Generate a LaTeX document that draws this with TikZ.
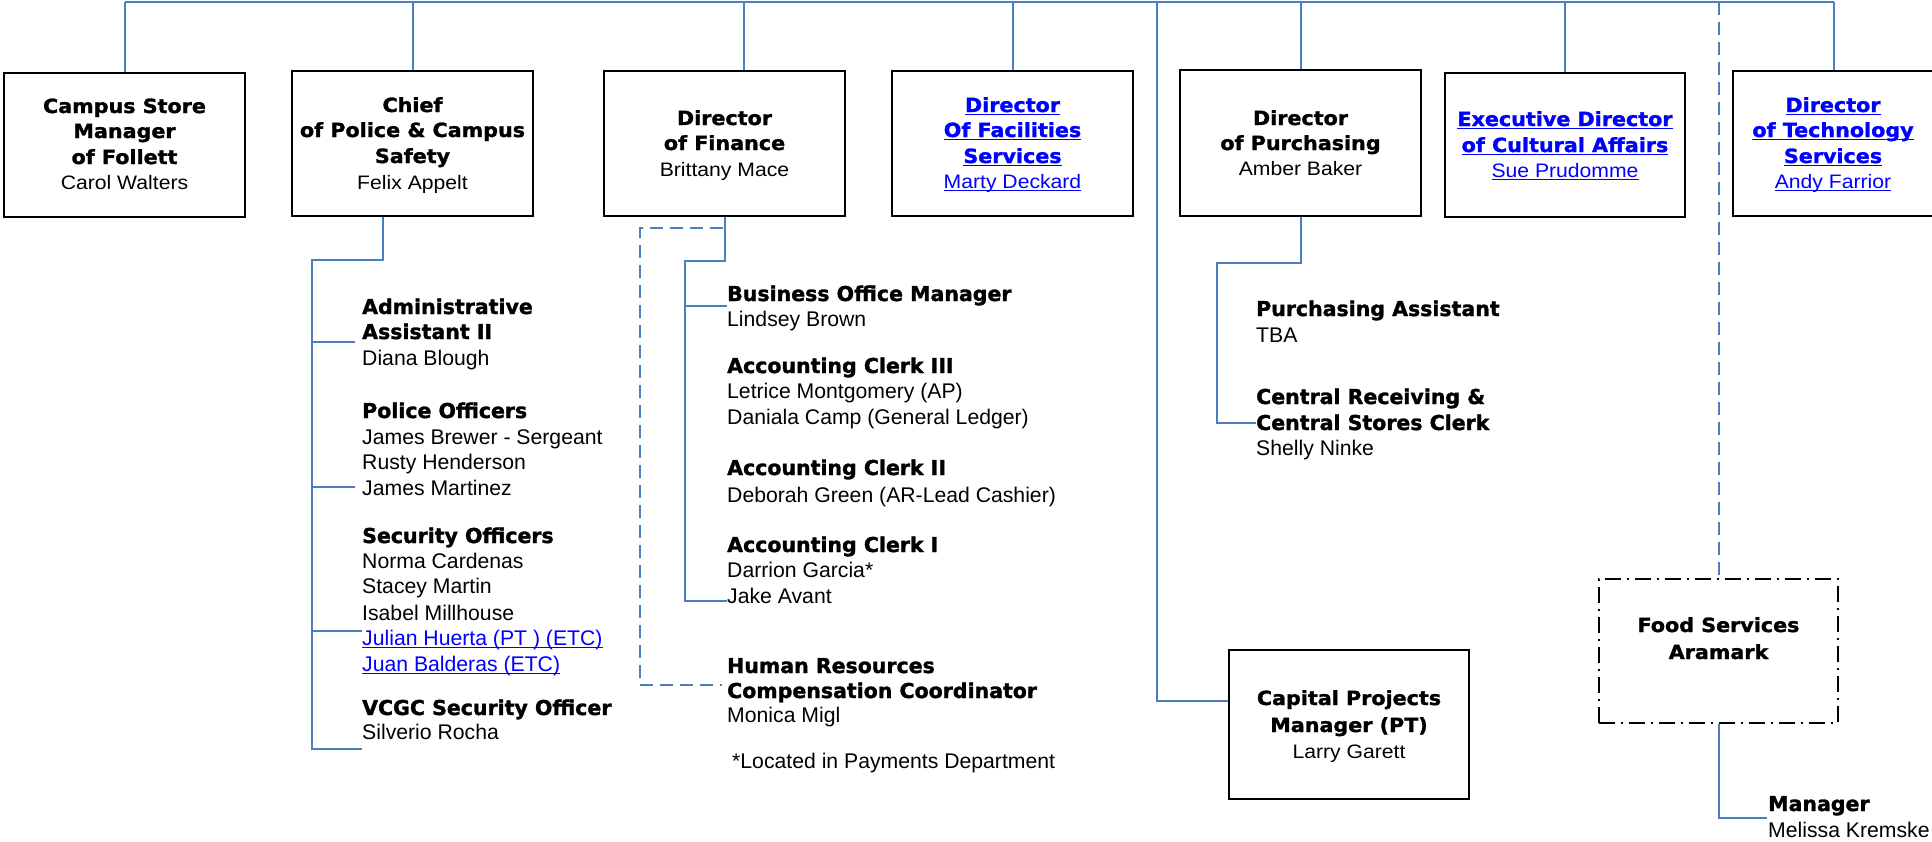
\documentclass[tikz,border=0pt]{standalone}
\usepackage{fontspec}
\usetikzlibrary{calc}
\setmainfont{Liberation Sans}
\newfontfamily\bxBf{DejaVu Sans}[FakeStretch=1.06,BoldFeatures={FakeBold=1.5}]
\newfontfamily\bxRf{Liberation Sans}[FakeStretch=1.085]
\newfontfamily\lsBf{DejaVu Sans}[BoldFeatures={FakeBold=1.5}]
\newcommand\BXB{\bxBf\bfseries\fontsize{19.5}{25}\selectfont}
\newcommand\BXR{\bxRf\fontsize{19.5}{25}\selectfont}
\newcommand\LB{\lsBf\bfseries\fontsize{20.5}{25}\selectfont}
\newcommand\LR{\rmfamily\fontsize{21.2}{25}\selectfont}
\definecolor{lineblue}{RGB}{74,126,190}
\definecolor{linkblue}{RGB}{0,0,255}
\newcommand\ulk[1]{\setbox0\hbox{#1}\rlap{\rule[-3pt]{\wd0}{1.4pt}}\box0}
\newcommand\lk[1]{\textcolor{linkblue}{\ulk{#1}}}
\begin{document}
\begin{tikzpicture}[x=1pt,y=-1pt,
  conn/.style={draw=lineblue,line width=2pt},
  dconn/.style={conn,dash pattern=on 13pt off 7pt},
  bx/.style={draw=black,line width=2.6pt,inner sep=0},
  fbx/.style={draw=black,line width=2pt,inner sep=0,dash pattern=on 16pt off 6pt on 2pt off 6pt},
  ctext/.style={inner sep=0,anchor=base},
  ltext/.style={inner sep=0,anchor=base west}]
\useasboundingbox (0,0) rectangle (1932,841);
\fill[white] (0,0) rectangle (1932,841);
\coordinate (bar) at (0,2);
\coordinate (barL) at (124.5,2);
\coordinate (barR) at (1833.5,2);
\coordinate (capbar) at (1157,2);
% boxes
\node[bx,minimum width=241,minimum height=144] (campus) at (124.5,145) {};
\node[bx,minimum width=241,minimum height=145] (chief) at (412.5,143.5) {};
\node[bx,minimum width=241,minimum height=145] (fin) at (724.5,143.5) {};
\node[bx,minimum width=241,minimum height=145] (fac) at (1012.5,143.5) {};
\node[bx,minimum width=241,minimum height=146] (pur) at (1300.5,143) {};
\node[bx,minimum width=240,minimum height=144] (cult) at (1565,145) {};
\node[bx,minimum width=201,minimum height=145] (tech) at (1833.5,143.5) {};
\node[bx,minimum width=240,minimum height=149] (cap) at (1349,724.5) {};
\node[fbx,minimum width=239,minimum height=144] (food) at (1718.5,651) {};
% box texts
\node[ctext] (t1a) at (124.5,113) {\BXB Campus Store};
\node[ctext] (t1b) at (124.5,138) {\BXB Manager};
\node[ctext] (t1c) at (124.5,164) {\BXB of Follett};
\node[ctext] (t1d) at (124.5,189) {\BXR Carol Walters};
\node[ctext] (t2a) at (412.5,112) {\BXB Chief};
\node[ctext] (t2b) at (412.5,137) {\BXB of Police \& Campus};
\node[ctext] (t2c) at (412.5,163) {\BXB Safety};
\node[ctext] (t2d) at (412.5,189) {\BXR Felix Appelt};
\node[ctext] (t3a) at (724.5,125) {\BXB Director};
\node[ctext] (t3b) at (724.5,150) {\BXB of Finance};
\node[ctext] (t3c) at (724.5,176) {\BXR Brittany Mace};
\node[ctext] (t4a) at (1012.5,112) {\BXB\lk{Director}};
\node[ctext] (t4b) at (1012.5,137) {\BXB\lk{Of Facilities}};
\node[ctext] (t4c) at (1012.5,163) {\BXB\lk{Services}};
\node[ctext] (t4d) at (1012.5,188) {\BXR\lk{Marty Deckard}};
\node[ctext] (t5a) at (1300.5,125) {\BXB Director};
\node[ctext] (t5b) at (1300.5,150) {\BXB of Purchasing};
\node[ctext] (t5c) at (1300.5,175) {\BXR Amber Baker};
\node[ctext] (t6a) at (1565,126) {\BXB\lk{Executive Director}};
\node[ctext] (t6b) at (1565,152) {\BXB\lk{of Cultural Affairs}};
\node[ctext] (t6c) at (1565,177) {\BXR\lk{Sue Prudomme}};
\node[ctext] (t7a) at (1833,112) {\BXB\lk{Director}};
\node[ctext] (t7b) at (1833,137) {\BXB\lk{of Technology}};
\node[ctext] (t7c) at (1833,163) {\BXB\lk{Services}};
\node[ctext] (t7d) at (1833,188) {\BXR\lk{Andy Farrior}};
\node[ctext] (t8a) at (1349,705) {\BXB Capital Projects};
\node[ctext] (t8b) at (1349,732) {\BXB Manager (PT)};
\node[ctext] (t8c) at (1349,758) {\BXR Larry Garett};
\node[ctext] (t9a) at (1718.5,632) {\BXB Food Services};
\node[ctext] (t9b) at (1718.5,659) {\BXB Aramark};
% police list
\node[ltext] (adm1) at (362,314) {\LB Administrative};
\node[ltext] (adm2) at (362,339) {\LB Assistant II};
\node[ltext] (adm3) at (362,365) {\LR Diana Blough};
\node[ltext] (pol1) at (362,418) {\LB Police Officers};
\node[ltext] (pol2) at (362,444) {\LR James Brewer - Sergeant};
\node[ltext] (pol3) at (362,469) {\LR Rusty Henderson};
\node[ltext] (pol4) at (362,495) {\LR James Martinez};
\node[ltext] (sec1) at (362,543) {\LB Security Officers};
\node[ltext] (sec2) at (362,568) {\LR Norma Cardenas};
\node[ltext] (sec3) at (362,593) {\LR Stacey Martin};
\node[ltext] (sec4) at (362,620) {\LR Isabel Millhouse};
\node[ltext] (sec5) at (362,645) {\LR\lk{Julian Huerta (PT ) (ETC)}};
\node[ltext] (sec6) at (362,671) {\LR\lk{Juan Balderas (ETC)}};
\node[ltext] (vc1) at (362,715) {\LB VCGC Security Officer};
\node[ltext] (vc2) at (362,739) {\LR Silverio Rocha};
% finance list
\node[ltext] (bom1) at (727,301) {\LB Business Office Manager};
\node[ltext] (bom2) at (727,326) {\LR Lindsey Brown};
\node[ltext] (ac3a) at (727,373) {\LB Accounting Clerk III};
\node[ltext] (ac3b) at (727,398) {\LR Letrice Montgomery (AP)};
\node[ltext] (ac3c) at (727,424) {\LR Daniala Camp (General Ledger)};
\node[ltext] (ac2a) at (727,475) {\LB Accounting Clerk II};
\node[ltext] (ac2b) at (727,502) {\LR Deborah Green (AR-Lead Cashier)};
\node[ltext] (ac1a) at (727,552) {\LB Accounting Clerk I};
\node[ltext] (ac1b) at (727,577) {\LR Darrion Garcia*};
\node[ltext] (ac1c) at (727,603) {\LR Jake Avant};
\node[ltext] (hr1) at (727,673) {\LB Human Resources};
\node[ltext] (hr2) at (727,698) {\LB Compensation Coordinator};
\node[ltext] (hr3) at (727,722) {\LR Monica Migl};
\node[ltext] (note) at (732,768) {\LR *Located in Payments Department};
% purchasing list
\node[ltext] (pa1) at (1256,316) {\LB Purchasing Assistant};
\node[ltext] (pa2) at (1256,342) {\LR TBA};
\node[ltext] (cr1) at (1256,404) {\LB Central Receiving \&};
\node[ltext] (cr2) at (1256,430) {\LB Central Stores Clerk};
\node[ltext] (cr3) at (1256,455) {\LR Shelly Ninke};
% food manager
\node[ltext] (mg1) at (1768,811) {\LB Manager};
\node[ltext] (mg2) at (1768,837) {\LR Melissa Kremske};
% top bar
\draw[conn] (barL) -- (barR);
\draw[conn] (campus.north) -- (campus.north |- bar);
\draw[conn] (chief.north) -- (chief.north |- bar);
\draw[conn] ($(fin.north)+(19.5,0)$) -- ++(0,-69);
\draw[conn] (fac.north) -- (fac.north |- bar);
\draw[conn] (pur.north) -- (pur.north |- bar);
\draw[conn] (cult.north) -- (cult.north |- bar);
\draw[conn] (tech.north) -- (tech.north |- bar);
\draw[conn] (capbar) |- ($(cap.north west)+(0,52)$);
\draw[dconn] (food.north |- bar) -- (food.north);
% chief subtree
\coordinate (cT) at (312,260);
\coordinate (cB) at (312,749);
\draw[conn] ($(chief.south)+(-29.5,0)$) |- (cT) -- (cB) -- (vc2.base west |- cB);
\draw[conn] (cT |- 0,342) -- (355,342);
\draw[conn] (cT |- 0,487) -- (355,487);
\draw[conn] (cT |- 0,631) -- (sec5.base west |- 0,631);
% finance subtree
\coordinate (fT) at (685,261);
\coordinate (fB) at (685,601);
\draw[conn] (fin.south) |- (fT) -- (fB) -- (ac1c.base west |- fB);
\draw[conn] (fT |- 0,306) -- (bom1.base west |- 0,306);
\draw[dconn] (723,228) -| (640,685) -- (722,685);
% purchasing subtree
\coordinate (pT) at (1217,263);
\coordinate (pB) at (1217,423);
\draw[conn] (pur.south) |- (pT) -- (pB) -- (cr2.base west |- pB);
% food manager
\draw[conn] (food.south) |- ($(mg1.base west)+(-1,7)$);
\end{tikzpicture}
\end{document}
